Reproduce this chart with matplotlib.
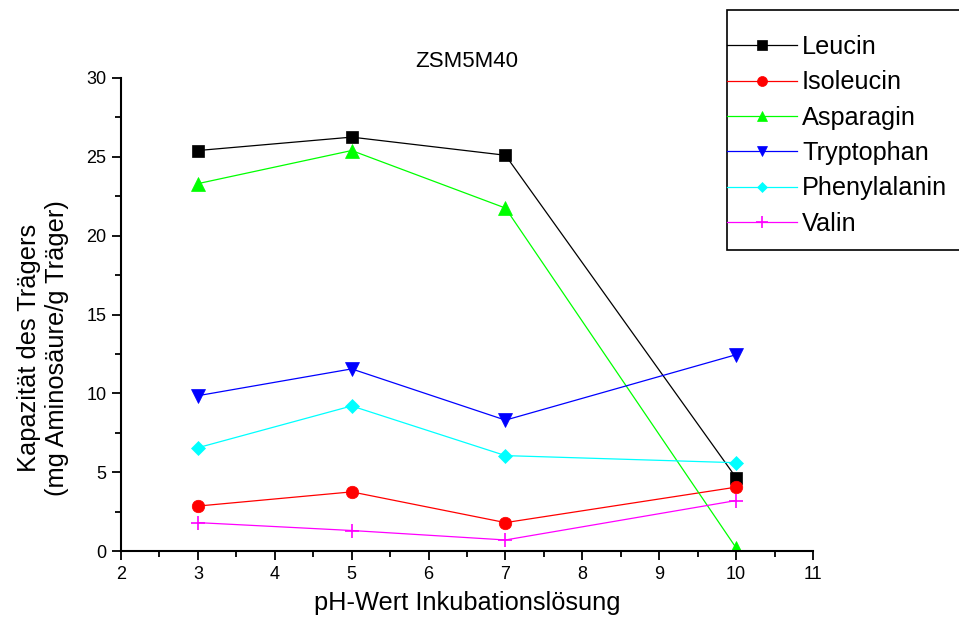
import matplotlib.pyplot as plt
from matplotlib.patches import Rectangle
from matplotlib.ticker import MultipleLocator

plt.rcParams['font.family'] = ['Liberation Sans', 'DejaVu Sans']

# Capacity of ZSM5M40 per amino acid at each incubation pH
ph = [3, 5, 7, 10]
leucin = [25.4, 26.25, 25.1, 4.65]
isoleucin = [2.85, 3.75, 1.8, 4.05]
asparagin = [23.3, 25.4, 21.75, 0.2]
tryptophan = [9.85, 11.55, 8.3, 12.45]
phenylalanin = [6.55, 9.2, 6.05, 5.6]
valin = [1.8, 1.3, 0.7, 3.2]

series = [
    ("Leucin", leucin, "black", "s", 8.5),
    ("Isoleucin", isoleucin, "red", "o", 9),
    ("Asparagin", asparagin, "#00ff00", "^", 9.5),
    ("Tryptophan", tryptophan, "blue", "v", 9.5),
    ("Phenylalanin", phenylalanin, "cyan", "D", 7),
    ("Valin", valin, "magenta", "+", 10),
]

fig = plt.figure(figsize=(9.59, 6.28), dpi=100)
ax = fig.add_axes([121 / 959, 77 / 628, 692 / 959, 473 / 628])

for name, vals, col, mk, ms in series:
    ax.plot(ph, vals, color=col, marker=mk, markersize=ms, linewidth=0.9,
            markeredgewidth=1.2 if mk == "+" else 0.5, label=name)

ax.set_xlim(2, 11)
ax.set_ylim(0, 30)
ax.xaxis.set_major_locator(MultipleLocator(1))
ax.xaxis.set_minor_locator(MultipleLocator(0.5))
ax.yaxis.set_major_locator(MultipleLocator(5))
ax.yaxis.set_minor_locator(MultipleLocator(2.5))
ax.tick_params(which='both', direction='out', width=1.3, labelsize=13, pad=4)
ax.tick_params(which='major', length=6.5)
ax.tick_params(which='minor', length=4.3)
for side in ['top', 'right']:
    ax.spines[side].set_visible(False)
for side in ['left', 'bottom']:
    ax.spines[side].set_linewidth(1.5)

ax.set_title("ZSM5M40", fontsize=16, pad=8)
ax.set_xlabel("pH-Wert Inkubationslösung", fontsize=18.3, labelpad=6)
ax.set_ylabel("Kapazität des Trägers\n(mg Aminosäure/g Träger)", fontsize=18.3,
              linespacing=1.2)
ax.yaxis.set_label_coords(69 / 959, 280 / 628, transform=fig.transFigure)

# legend box drawn separately so the handles can touch its left edge
ax.add_patch(Rectangle((727 / 959, (628 - 250) / 628), 0.3, 240 / 628,
                       transform=fig.transFigure, facecolor='white',
                       edgecolor='black', linewidth=1.2, zorder=5,
                       clip_on=False))
leg = ax.legend(loc='upper left', bbox_to_anchor=(727 / 959, 1 - 35 / 628),
                bbox_transform=fig.transFigure, borderaxespad=0, borderpad=0,
                fontsize=18.2, handlelength=2.77, handletextpad=0.2,
                labelspacing=0.45, markerscale=0.8, frameon=False)
leg.set_zorder(6)

fig.savefig('out.png', dpi=100)
